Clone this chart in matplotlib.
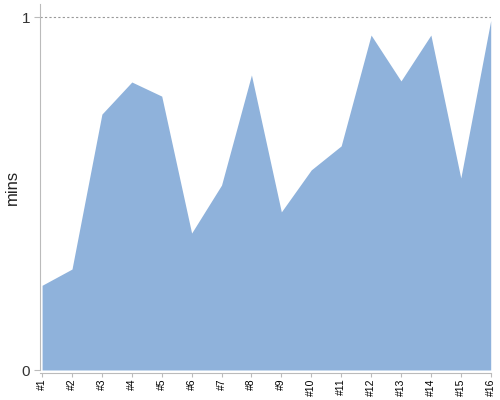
import matplotlib
matplotlib.use("Agg")
import matplotlib.pyplot as plt

plt.rcParams["font.family"] = ["Liberation Sans", "DejaVu Sans"]

# ── data ─────────────────────────────────────────────────────────────────────
labels = ["#1", "#2", "#3", "#4", "#5", "#6", "#7", "#8",
          "#9", "#10", "#11", "#12", "#13", "#14", "#15", "#16"]
mins = [0.24, 0.286, 0.725, 0.816, 0.776, 0.388, 0.524, 0.836,
        0.448, 0.567, 0.635, 0.949, 0.819, 0.949, 0.544, 0.99]

x = list(range(len(labels)))

fig = plt.figure(figsize=(5, 4), dpi=100)
ax = fig.add_axes([0.08, 0.075, 0.902, 0.915])

ax.fill_between(x, mins, 0, color="#8fb2db", linewidth=0)
ax.axhline(1, color="#999999", linestyle=(0, (2, 2)), linewidth=0.8)

ax.set_xlim(-0.07, 15.01)
ax.set_ylim(0, 1.037)

for s in ["top", "right"]:
    ax.spines[s].set_visible(False)
ax.spines["left"].set_color("#bbbbbb")
ax.spines["bottom"].set_color("#bbbbbb")
ax.spines["bottom"].set_position(("outward", 2))
ax.tick_params(axis="y", length=4, color="#bbbbbb", pad=3)
ax.tick_params(axis="x", length=3, color="#bbbbbb", pad=1)

ax.set_yticks([0, 1])
ax.set_yticklabels(["0", "1"], fontsize=11, color="#333333")
ax.set_xticks(x)
ax.set_xticklabels(labels, fontsize=7.5, color="#000000")
plt.setp(ax.get_xticklabels(), rotation=90, ha="center", va="top")

ax.set_ylabel("mins", fontsize=12, color="#222222")
ax.yaxis.set_label_coords(-0.045, 0.5)

fig.savefig("out.png", dpi=100)
